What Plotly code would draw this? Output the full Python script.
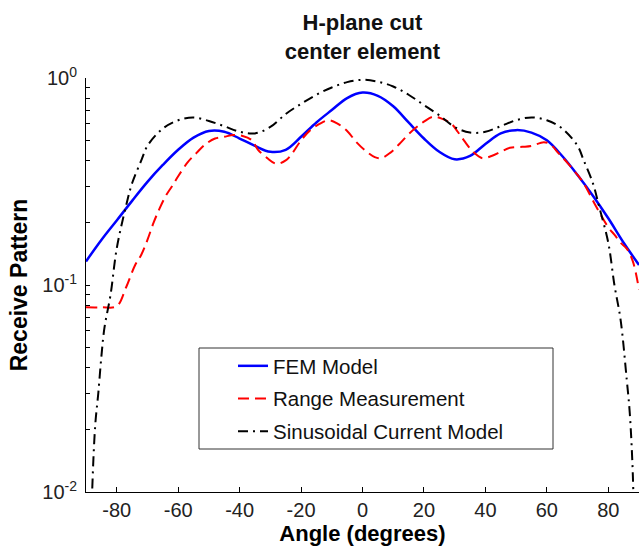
import plotly.graph_objects as go

# FEM model (blue, solid)
fem_angle = [-90, -85, -80, -75, -70, -65, -60, -55, -50, -45, -40, -35, -30, -25, -20, -15, -10, -5, 0,
             5, 10, 15, 20, 25, 30, 35, 40, 45, 50, 55, 60, 65, 70, 75, 80, 85, 90]
fem_val = [0.13, 0.165, 0.205, 0.255, 0.315, 0.38, 0.45, 0.515, 0.555, 0.55, 0.51, 0.47, 0.44, 0.45, 0.52,
           0.61, 0.70, 0.80, 0.85, 0.82, 0.73, 0.61, 0.51, 0.44, 0.405, 0.42, 0.48, 0.54, 0.56, 0.545,
           0.50, 0.42, 0.34, 0.27, 0.21, 0.16, 0.125]

# Range measurement (red, dashed)
meas_angle = [-90, -85, -80, -77, -74, -72, -70, -68, -66, -64, -62, -60, -57, -54, -51, -48, -45, -42,
              -39, -36, -34, -31, -28, -25, -23, -20, -17, -14, -11, -8, -5, -2, 1, 4, 6, 9, 12, 15, 18,
              20, 23, 26, 29, 31, 33, 36, 39, 42, 45, 48, 52, 55, 59, 61, 64, 67, 70, 72, 76, 80, 82, 84,
              86, 88, 90]
meas_val = [0.078, 0.078, 0.079, 0.097, 0.125, 0.14, 0.165, 0.20, 0.235, 0.27, 0.30, 0.335, 0.39, 0.435,
            0.48, 0.51, 0.52, 0.53, 0.525, 0.50, 0.45, 0.41, 0.385, 0.40, 0.43, 0.50, 0.56, 0.60, 0.625,
            0.60, 0.555, 0.49, 0.445, 0.415, 0.41, 0.435, 0.48, 0.535, 0.585, 0.615, 0.65, 0.635, 0.60,
            0.55, 0.50, 0.44, 0.41, 0.42, 0.44, 0.46, 0.465, 0.47, 0.49, 0.48, 0.43, 0.385, 0.34, 0.31,
            0.24, 0.19, 0.175, 0.16, 0.15, 0.13, 0.095]

# Sinusoidal current model (black, dash-dot)
sin_angle = [-88.5, -88, -87, -86, -85, -84, -82, -80, -77, -75, -72, -70, -65, -60, -55, -50, -45, -40,
             -35, -30, -25, -20, -15, -10, -5, 0, 5, 10, 15, 20, 25, 30, 35, 40, 45, 50, 55, 60, 65, 70,
             72, 75, 77, 80, 82, 84, 86, 87, 88, 88.5]
sin_val = [0.005, 0.01, 0.021, 0.03, 0.045, 0.062, 0.09, 0.15, 0.24, 0.31, 0.40, 0.47, 0.57, 0.625, 0.645,
           0.62, 0.585, 0.55, 0.54, 0.58, 0.67, 0.75, 0.83, 0.90, 0.955, 0.98, 0.96, 0.91, 0.83, 0.74,
           0.66, 0.58, 0.545, 0.55, 0.585, 0.625, 0.645, 0.625, 0.57, 0.47, 0.40, 0.31, 0.24, 0.16, 0.10,
           0.068, 0.035, 0.024, 0.012, 0.005]

x_ticks = [-80, -60, -40, -20, 0, 20, 40, 60, 80]
x_tick_text = ["-80", "-60", "-40", "-20", "0", "20", "40", "60", "80"]
y_major = [0.01, 0.1, 1]
y_major_text = ["10<sup>-2</sup>", "10<sup>-1</sup>", "10<sup>0</sup>"]

FONT = "Liberation Sans, Arial, Helvetica, sans-serif"

y_minor = [d * k for d in [0.01, 0.1] for k in range(2, 10)]

fig = go.Figure()
fig.add_trace(go.Scatter(x=fem_angle, y=fem_val, mode="lines", name="FEM Model", legendgroup="a",
                         line=dict(color="#0000ff", width=2.5, shape="spline")))
fig.add_trace(go.Scatter(x=meas_angle, y=meas_val, mode="lines", name="Range Measurement", legendgroup="b",
                         line=dict(color="#ff0000", width=2, dash="11px,6px", shape="spline")))
fig.add_trace(go.Scatter(x=sin_angle, y=sin_val, mode="lines", name="Sinusoidal Current Model", legendgroup="c",
                         line=dict(color="#000000", width=2, dash="10px,5px,2px,5px", shape="spline")))

fig.update_layout(
    width=641, height=547,
    margin=dict(l=86, r=2, t=78, b=55),
    paper_bgcolor="white", plot_bgcolor="white",
    font=dict(family=FONT, color="black", size=15),
    title=dict(text="<b>H-plane cut</b><br><b>center element</b>", x=0.5, xref="paper", xanchor="center",
               y=1 - 30 / 547, yref="container", yanchor="top", font=dict(size=22, color="#111")),
    showlegend=True,
    legend=dict(x=(233 - 86) / 553, y=(492 - 346) / 414, xanchor="left", yanchor="top",
                bgcolor="rgba(0,0,0,0)", borderwidth=0, traceorder="grouped", tracegroupgap=3,
                font=dict(size=20.5, color="#111")),
    xaxis=dict(range=[-90, 90], tickmode="array", tickvals=x_ticks, ticktext=x_tick_text,
               ticks="inside", ticklen=5, tickcolor="black",
               showline=True, linecolor="black", linewidth=1, mirror=False, showgrid=False, zeroline=False,
               tickfont=dict(size=20, color="#222"),
               title=dict(text="<b>Angle (degrees)</b>", font=dict(size=22), standoff=0)),
    yaxis=dict(type="log", range=[-2, 0], tickmode="array", tickvals=y_major, ticktext=y_major_text,
               ticks="inside", ticklen=4, tickcolor="black", showline=True, linecolor="black", linewidth=1,
               mirror=False, showgrid=False, zeroline=False, tickfont=dict(size=20, color="#222"),
               ticklabelstandoff=4,
               minor=dict(tickmode="array", tickvals=y_minor, ticks="inside", ticklen=4,
                          tickcolor="black", showgrid=False),
               title=dict(text="<b>Receive Pattern</b>", font=dict(size=23), standoff=8)),
)

fig.add_shape(type="rect", xref="paper", yref="paper",
              x0=(199 - 86) / 553, x1=(553 - 86) / 553, y0=(492 - 449) / 414, y1=(492 - 348) / 414,
              line=dict(color="#333", width=1), fillcolor="white", layer="below")

fig.write_html("out.html")
